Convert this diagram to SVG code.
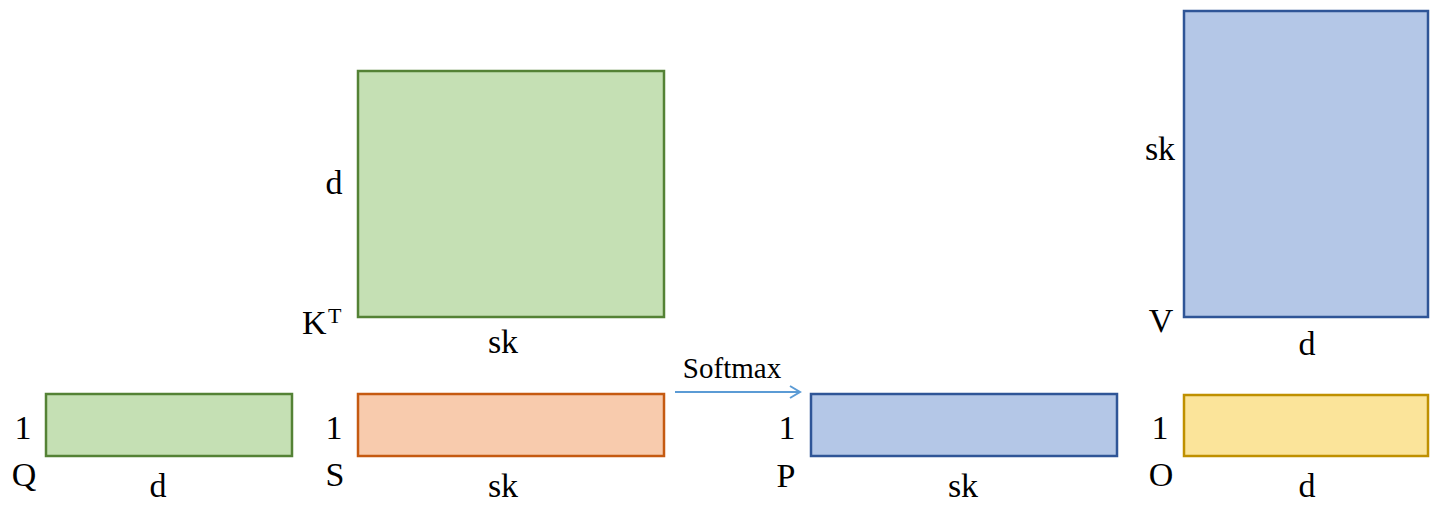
<svg xmlns="http://www.w3.org/2000/svg" width="1440" height="511" viewBox="0 0 1440 511" font-family="'Liberation Serif', 'Times New Roman', 'DejaVu Serif', serif">
<style>
text{font-family:"Liberation Serif","Times New Roman","DejaVu Serif",serif;font-size:34px;fill:#000}
.m{text-anchor:middle}
.g{fill:#c5e0b4;stroke:#548235;stroke-width:2.5}
.o{fill:#f8cbad;stroke:#c55a11;stroke-width:2.5}
.b{fill:#b4c7e7;stroke:#2f5597;stroke-width:2.5}
.y{fill:#fbe49a;stroke:#bf9000;stroke-width:2.5}
</style>
<defs>
<marker id="ah" markerWidth="14" markerHeight="14" refX="11" refY="7" orient="auto" markerUnits="userSpaceOnUse">
<path d="M1,1 L11,7 L1,13" fill="none" stroke="#5b9bd5" stroke-width="2"/>
</marker>
</defs>
<g id="Q">
<rect class="g" x="46" y="394" width="246" height="62"/>
<text x="23" y="439" class="m">1</text>
<text x="24" y="486" class="m">Q</text>
<text x="158" y="497" class="m">d</text>
</g>
<g id="KT">
<rect class="g" x="358" y="71" width="306" height="246"/>
<text x="334" y="194" class="m">d</text>
<text x="302" y="334">K</text>
<text x="328" y="323" style="font-size:22px">T</text>
<text x="503" y="353" class="m">sk</text>
</g>
<g id="S">
<rect class="o" x="358" y="394" width="306" height="62"/>
<text x="334" y="439" class="m">1</text>
<text x="335" y="486" class="m">S</text>
<text x="503" y="497" class="m">sk</text>
</g>
<g id="P">
<rect class="b" x="811" y="394" width="306" height="62"/>
<text x="787" y="439" class="m">1</text>
<text x="786" y="487" class="m">P</text>
<text x="963" y="497" class="m">sk</text>
</g>
<g id="V">
<rect class="b" x="1184" y="11" width="244" height="306"/>
<text x="1160" y="160" class="m">sk</text>
<text x="1161" y="332" class="m">V</text>
<text x="1307" y="355" class="m">d</text>
</g>
<g id="O">
<rect class="y" x="1184" y="395" width="244" height="61"/>
<text x="1160" y="439" class="m">1</text>
<text x="1161" y="486" class="m">O</text>
<text x="1307" y="497" class="m">d</text>
</g>
<g id="connectors">
<line x1="675" y1="392" x2="800" y2="392" stroke="#5b9bd5" stroke-width="2" marker-end="url(#ah)"/>
<text x="732" y="378" class="m" style="font-size:29px">Softmax</text>
</g>
</svg>
